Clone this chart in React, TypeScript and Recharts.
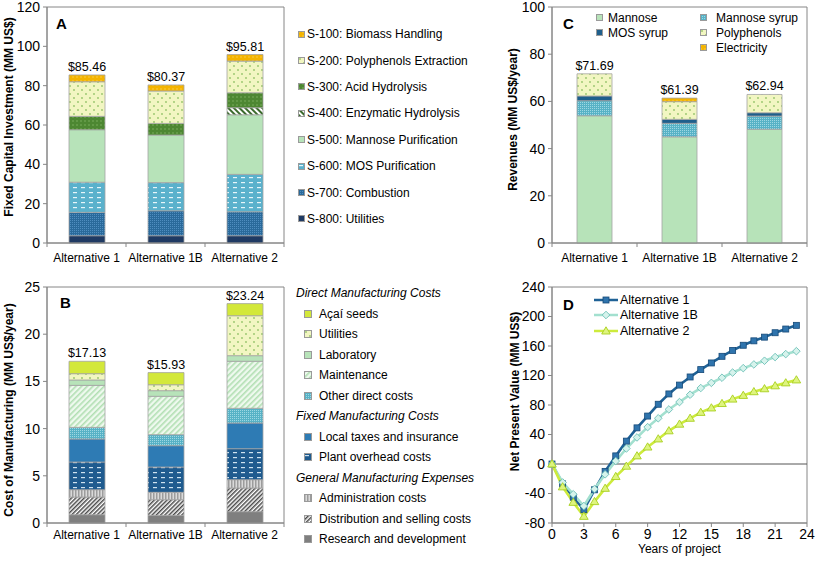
import React from 'react';
import {
  BarChart, Bar, XAxis, YAxis, LabelList, Legend, ReferenceArea,
  LineChart, Line, ReferenceLine,
} from 'recharts';

const categories = ['Alternative 1', 'Alternative 1B', 'Alternative 2'];

// ---- Panel A: Fixed capital investment (MM US$)
const s800 = [3.7, 3.7, 3.7];
const s700 = [11.9, 12.7, 12.2];
const s600 = [15.3, 14.3, 19.0];
const s500 = [26.7, 24.2, 30.3];
const s400 = [0, 0, 3.6];
const s300 = [6.8, 5.9, 7.6];
const s200 = [17.6, 16.5, 16.1];
const s100 = [3.46, 3.07, 3.31];
const fciTotals = [85.46, 80.37, 95.81];
const fciTicks = [0, 20, 40, 60, 80, 100, 120];

// ---- Panel B: Cost of manufacturing (MM US$/year)
const rd = [0.88, 0.81, 1.2];
const dist = [1.87, 1.66, 2.51];
const admin = [0.78, 0.78, 0.88];
const overhead = [2.93, 2.68, 3.28];
const taxes = [2.44, 2.26, 2.72];
const otherDirect = [1.23, 1.17, 1.56];
const maintenance = [4.45, 4.06, 4.98];
const laboratory = [0.57, 0.6, 0.6];
const utilities = [0.67, 0.63, 4.23];
const acai = [1.31, 1.28, 1.28];
const comTotals = [17.13, 15.93, 23.24];
const comTicks = [0, 5, 10, 15, 20, 25];

// ---- Panel C: Revenues (MM US$/year)
const mannose = [53.9, 45.0, 48.2];
const mannoseSyrup = [6.4, 5.7, 5.6];
const mosSyrup = [2.0, 1.7, 1.4];
const polyphenols = [9.39, 7.5, 7.74];
const electricity = [0, 1.49, 0];
const revTotals = [71.69, 61.39, 62.94];
const revTicks = [0, 20, 40, 60, 80, 100];

// ---- Panel D: Net present value (MM US$)
const years = [0, 1, 2, 3, 4, 5, 6, 7, 8, 9, 10, 11, 12, 13, 14, 15, 16, 17, 18, 19, 20, 21, 22, 23];
const npvAlt1 = [0, -27, -45, -62, -35, -10, 11, 31, 49, 65, 81, 95, 107, 118, 128, 137, 146, 154, 161, 167, 172, 178, 183, 188];
const npvAlt1B = [0, -25, -41, -57, -34, -14, 4, 21, 36, 50, 62, 74, 84, 94, 103, 110, 117, 124, 130, 135, 140, 145, 149, 153];
const npvAlt2 = [0, -31, -52, -71, -51, -33, -17, -3, 11, 23, 34, 45, 54, 62, 70, 76, 82, 88, 93, 98, 102, 106, 110, 114];
const npvTicks = [-80, -40, 0, 40, 80, 120, 160, 200, 240];
const yearTicks = [0, 3, 6, 9, 12, 15, 18, 21, 24];

// ---- styles
const FONT = '"Liberation Sans", Arial, Helvetica, sans-serif';
const AXIS = '#868686';
const BAR_STROKE = '#a3a3a3';

const fciSeries = [
  { key: 's800', name: 'S-800: Utilities', values: s800, fill: '#1f3a63' },
  { key: 's700', name: 'S-700: Combustion', values: s700, fill: 'url(#pCheck700)' },
  { key: 's600', name: 'S-600: MOS Purification', values: s600, fill: 'url(#pDash600)' },
  { key: 's500', name: 'S-500: Mannose Purification', values: s500, fill: '#b7e3b9' },
  { key: 's400', name: 'S-400: Enzymatic Hydrolysis', values: s400, fill: 'url(#pDiagDG)' },
  { key: 's300', name: 'S-300: Acid Hydrolysis', values: s300, fill: 'url(#pGreenDots)' },
  { key: 's200', name: 'S-200: Polyphenols Extraction', values: s200, fill: 'url(#pYellowDots)' },
  { key: 's100', name: 'S-100: Biomass Handling', values: s100, fill: 'url(#pOrange)' },
];

const comSeries = [
  { key: 'rd', name: 'Research and development', values: rd, fill: '#7f7f7f' },
  { key: 'dist', name: 'Distribution and selling costs', values: dist, fill: 'url(#pDiagGray)' },
  { key: 'admin', name: 'Administration costs', values: admin, fill: 'url(#pVertGray)' },
  { key: 'overhead', name: 'Plant overhead costs', values: overhead, fill: 'url(#pDashNavy)' },
  { key: 'taxes', name: 'Local taxes and insurance', values: taxes, fill: '#2e7bb4' },
  { key: 'otherDirect', name: 'Other direct costs', values: otherDirect, fill: 'url(#pCheckTeal)' },
  { key: 'maintenance', name: 'Maintenance', values: maintenance, fill: 'url(#pDiagGreen)' },
  { key: 'laboratory', name: 'Laboratory', values: laboratory, fill: '#b7e3b9' },
  { key: 'utilities', name: 'Utilities', values: utilities, fill: 'url(#pYellowDots)' },
  { key: 'acai', name: 'Açaí seeds', values: acai, fill: '#d3e83a' },
];

const comLegendGroups = [
  { title: 'Direct Manufacturing Costs', keys: ['acai', 'utilities', 'laboratory', 'maintenance', 'otherDirect'] },
  { title: 'Fixed Manufacturing Costs', keys: ['taxes', 'overhead'] },
  { title: 'General Manufacturing Expenses', keys: ['admin', 'dist', 'rd'] },
];

const revSeries = [
  { key: 'mannose', name: 'Mannose', values: mannose, fill: '#b7e3b9' },
  { key: 'mannoseSyrup', name: 'Mannose syrup', values: mannoseSyrup, fill: 'url(#pCheckTeal)' },
  { key: 'mosSyrup', name: 'MOS syrup', values: mosSyrup, fill: '#1f5f8c' },
  { key: 'polyphenols', name: 'Polyphenols', values: polyphenols, fill: 'url(#pYellowDots)' },
  { key: 'electricity', name: 'Electricity', values: electricity, fill: 'url(#pOrange)' },
];
const revLegendOrder = [['mannose', 'mannoseSyrup'], ['mosSyrup', 'polyphenols'], [null, 'electricity']];

const npvSeries = [
  { key: 'alt1', name: 'Alternative 1', values: npvAlt1, stroke: '#1f6296', shape: 'square' },
  { key: 'alt1b', name: 'Alternative 1B', values: npvAlt1B, stroke: '#a3e0cf', shape: 'diamond' },
  { key: 'alt2', name: 'Alternative 2', values: npvAlt2, stroke: '#cdeb3c', shape: 'triangle' },
];

const buildRows = (series: any[], totals: number[]) =>
  categories.map((name, i) => {
    const row: any = { name, total: totals[i] };
    series.forEach((s) => { row[s.key] = s.values[i]; });
    return row;
  });

const fciData = buildRows(fciSeries, fciTotals);
const comData = buildRows(comSeries, comTotals);
const revData = buildRows(revSeries, revTotals);
const npvData = years.map((year, i) => {
  const row: any = { year };
  npvSeries.forEach((s) => { row[s.key] = s.values[i]; });
  return row;
});

// ---- layout constants
const LEFT_W = 500;
const LEFT_RIGHT_MARGIN = 216;
const LEFT_YAXIS_W = 47;
const RIGHT_W = 317;
const RIGHT_RIGHT_MARGIN = 10;
const RIGHT_YAXIS_W = 52;
const leftHalfBand = (LEFT_W - LEFT_RIGHT_MARGIN - LEFT_YAXIS_W) / categories.length / 2;
const rightHalfBand = (RIGHT_W - RIGHT_RIGHT_MARGIN - RIGHT_YAXIS_W) / categories.length / 2;

const makeCatTick = (half: number, tickLen: number, gap: number) => (props: any) => {
  const { x, y, payload, index } = props;
  const axisY = y - tickLen - gap;
  return (
    <g>
      <line x1={x - half} x2={x - half} y1={axisY} y2={axisY + tickLen} stroke={AXIS} />
      {index === categories.length - 1 ? (
        <line x1={x + half} x2={x + half} y1={axisY} y2={axisY + tickLen} stroke={AXIS} />
      ) : null}
      <text x={x} y={y} dy="0.71em" textAnchor="middle" fontSize={12} fill="#000" fontFamily={FONT}>
        {payload.value}
      </text>
    </g>
  );
};

const Swatch = ({ fill, size = 8 }: { fill: string; size?: number }) => (
  <svg width={size} height={size} style={{ display: 'block', flex: 'none' }}>
    <rect x={0.5} y={0.5} width={size - 1} height={size - 1} fill={fill} stroke="#9a9a9a" strokeWidth={1} />
  </svg>
);

const FciLegend = () => (
  <div style={{ fontFamily: FONT, fontSize: 12, color: '#000' }}>
    {fciSeries.slice().reverse().map((s) => (
      <div key={s.key} style={{ display: 'flex', alignItems: 'center', height: 26.4, whiteSpace: 'nowrap' }}>
        <Swatch fill={s.fill} size={7} />
        <span style={{ marginLeft: 2 }}>{s.name}</span>
      </div>
    ))}
  </div>
);

const ComLegend = () => (
  <div style={{ fontFamily: FONT, fontSize: 12, color: '#000' }}>
    {comLegendGroups.map((g) => (
      <div key={g.title}>
        <div style={{ height: 20.5, lineHeight: '20.5px', fontStyle: 'italic', whiteSpace: 'nowrap' }}>{g.title}</div>
        {g.keys.map((k) => {
          const s = comSeries.find((c) => c.key === k)!;
          return (
            <div key={k} style={{ display: 'flex', alignItems: 'center', height: 20.5, paddingLeft: 8, whiteSpace: 'nowrap' }}>
              <Swatch fill={s.fill} size={8} />
              <span style={{ marginLeft: 7 }}>{s.name}</span>
            </div>
          );
        })}
      </div>
    ))}
  </div>
);

const RevLegend = () => (
  <div style={{ fontFamily: FONT, fontSize: 12, color: '#000', display: 'grid', gridTemplateColumns: '104px 120px', gridAutoRows: '15px' }}>
    {revLegendOrder.flat().map((k, i) => {
      if (!k) return <div key={'e' + i} />;
      const s = revSeries.find((c) => c.key === k)!;
      return (
        <div key={k} style={{ display: 'flex', alignItems: 'center', whiteSpace: 'nowrap' }}>
          <Swatch fill={s.fill} size={7} />
          <span style={{ marginLeft: i % 2 === 0 ? 5 : 9 }}>{s.name}</span>
        </div>
      );
    })}
  </div>
);

const Marker = ({ shape, cx, cy }: { shape: string; cx: number; cy: number }) => {
  if (shape === 'square') {
    return <rect x={cx - 3} y={cy - 3} width={6} height={6} fill="#2f74ad" stroke="#174a78" strokeWidth={0.8} />;
  }
  if (shape === 'diamond') {
    return (
      <path
        d={`M${cx},${cy - 3.8} L${cx + 3.8},${cy} L${cx},${cy + 3.8} L${cx - 3.8},${cy} Z`}
        fill="#d6f3ec" stroke="#6cbfb7" strokeWidth={0.9}
      />
    );
  }
  return (
    <path
      d={`M${cx},${cy - 4.2} L${cx + 4.3},${cy + 3} L${cx - 4.3},${cy + 3} Z`}
      fill="#def47e" stroke="#a8cf1e" strokeWidth={0.9}
    />
  );
};

const NpvLegend = () => (
  <div style={{ fontFamily: FONT, fontSize: 12.5, color: '#000' }}>
    {npvSeries.map((s) => (
      <div key={s.key} style={{ display: 'flex', alignItems: 'center', height: 15.5, whiteSpace: 'nowrap' }}>
        <svg width={24} height={10} style={{ display: 'block' }}>
          <line x1={0} x2={24} y1={5} y2={5} stroke={s.stroke} strokeWidth={2.5} />
          <Marker shape={s.shape} cx={12} cy={5} />
        </svg>
        <span style={{ marginLeft: 2 }}>{s.name}</span>
      </div>
    ))}
  </div>
);

const panelLetter = (ch: string, left: number, top: number) => (
  <div style={{ position: 'absolute', left, top, fontFamily: FONT, fontWeight: 'bold', fontSize: 15, lineHeight: '15px' }}>{ch}</div>
);

const Patterns = () => (
  <svg width={0} height={0} style={{ position: 'absolute' }}>
    <defs>
      <pattern id="pOrange" width="4" height="4" patternUnits="userSpaceOnUse">
        <rect width="4" height="4" fill="#f4b400" />
        <circle cx="1" cy="1" r="0.7" fill="#fcd35e" />
      </pattern>
      <pattern id="pYellowDots" width="8" height="8" patternUnits="userSpaceOnUse">
        <rect width="8" height="8" fill="#f2f6c2" />
        <circle cx="2" cy="2" r="0.9" fill="#96c46a" />
        <circle cx="6" cy="6" r="0.9" fill="#96c46a" />
      </pattern>
      <pattern id="pGreenDots" width="4" height="4" patternUnits="userSpaceOnUse">
        <rect width="4" height="4" fill="#4d8732" />
        <circle cx="1" cy="1" r="0.7" fill="#86b86a" />
      </pattern>
      <pattern id="pDiagDG" width="4" height="4" patternUnits="userSpaceOnUse" patternTransform="rotate(-45)">
        <rect width="4" height="4" fill="#ffffff" />
        <rect width="2" height="4" fill="#3b6a2c" />
      </pattern>
      <pattern id="pDash600" width="8" height="5" patternUnits="userSpaceOnUse">
        <rect width="8" height="5" fill="#5ab1cc" />
        <rect x="1" y="2" width="4" height="1.2" fill="#e6f5f9" />
      </pattern>
      <pattern id="pCheck700" width="2" height="2" patternUnits="userSpaceOnUse">
        <rect width="2" height="2" fill="#2a6a9b" />
        <rect width="1" height="1" fill="#4f8dbf" />
      </pattern>
      <pattern id="pCheckTeal" width="2" height="2" patternUnits="userSpaceOnUse">
        <rect width="2" height="2" fill="#57b2c6" />
        <rect width="1" height="1" fill="#9dd7e2" />
      </pattern>
      <pattern id="pDiagGreen" width="4" height="4" patternUnits="userSpaceOnUse" patternTransform="rotate(45)">
        <rect width="4" height="4" fill="#eef9ee" />
        <rect width="1.6" height="4" fill="#b2dfb3" />
      </pattern>
      <pattern id="pDashNavy" width="8" height="5" patternUnits="userSpaceOnUse">
        <rect width="8" height="5" fill="#1f5b8f" />
        <rect x="1" y="2" width="4" height="1.2" fill="#cfe2ef" />
      </pattern>
      <pattern id="pVertGray" width="3" height="3" patternUnits="userSpaceOnUse">
        <rect width="3" height="3" fill="#dadada" />
        <rect width="1.5" height="3" fill="#9c9c9c" />
      </pattern>
      <pattern id="pDiagGray" width="3" height="3" patternUnits="userSpaceOnUse" patternTransform="rotate(45)">
        <rect width="3" height="3" fill="#ffffff" />
        <rect width="1.5" height="3" fill="#4a4a4a" />
      </pattern>
    </defs>
  </svg>
);

const yLabel = (value: string, dx: number, dy: number) => ({
  value, angle: -90, position: 'center' as const, dx, dy,
  fontSize: 12, fontWeight: 'bold', fill: '#000',
});

const money = (v: any) => `$${Number(v).toFixed(2)}`;

// total label drawn on the topmost non-zero segment of each stack
const makeTotalLabel = (data: any[], series: any[], seriesIdx: number) => (p: any) => {
  let idx = data.findIndex((r) => r.total === Number(p.value));
  if (idx < 0 && typeof p.index === 'number') idx = p.index;
  if (idx < 0 || !data[idx]) return null;
  const row = data[idx];
  let top = -1;
  series.forEach((s, j) => { if (row[s.key] > 0) top = j; });
  if (top !== seriesIdx) return null;
  return (
    <text x={Number(p.x) + Number(p.width) / 2} y={Number(p.y) - 4} textAnchor="middle" fontSize={12.5} fill="#000" fontFamily={FONT}>
      {money(row.total)}
    </text>
  );
};

const StackedPanel = ({ data, series, ticks, domain, width, rightMargin, yWidth, halfBand, tickGap, label, labelDx, labelDy, legend, legendStyle, barSize }: any) => (
  <BarChart width={width} height={265} data={data} margin={{ top: 7, right: rightMargin, left: 0, bottom: 0 }}>
    <ReferenceArea y1={domain[0]} y2={domain[1]} fill="none" stroke={AXIS} ifOverflow="visible" />
    <XAxis dataKey="name" height={22} axisLine={{ stroke: AXIS }} tickLine={false} tickSize={4} tickMargin={tickGap}
      tick={makeCatTick(halfBand, 4, tickGap)} interval={0} />
    <YAxis domain={domain} ticks={ticks} interval={0} width={yWidth} tickSize={4} tickMargin={3}
      axisLine={{ stroke: AXIS }} tickLine={{ stroke: AXIS }} tick={{ fontSize: 14, fill: '#000' }}
      label={yLabel(label, labelDx, labelDy)} />
    {series.map((s: any, i: number) => (
      <Bar key={s.key} dataKey={s.key} name={s.name} stackId="a" fill={s.fill} stroke={BAR_STROKE} strokeWidth={0.8}
        barSize={barSize} isAnimationActive={false}>
        <LabelList dataKey="total" content={makeTotalLabel(data, series, i)} />
      </Bar>
    ))}
    <Legend layout="vertical" align="center" verticalAlign="middle" content={legend} wrapperStyle={legendStyle} />
  </BarChart>
);

export default function App() {
  return (
    <div style={{ position: 'absolute', left: 0, top: 0, width: 817, height: 566, background: '#fff', fontFamily: FONT, overflow: 'hidden' }}>
      <Patterns />
      <div style={{ position: 'absolute', left: 0, top: 0 }}>
        <StackedPanel data={fciData} series={fciSeries} ticks={fciTicks} domain={[0, 120]} width={LEFT_W}
          rightMargin={LEFT_RIGHT_MARGIN} yWidth={LEFT_YAXIS_W} halfBand={leftHalfBand} tickGap={6} barSize={36}
          label="Fixed Capital Investment (MM US$)" labelDx={-14.5} labelDy={-8}
          legend={() => <FciLegend />} legendStyle={{ left: 298, top: 21, width: 200 }} />
      </div>
      <div style={{ position: 'absolute', left: 0, top: 280 }}>
        <StackedPanel data={comData} series={comSeries} ticks={comTicks} domain={[0, 25]} width={LEFT_W}
          rightMargin={LEFT_RIGHT_MARGIN} yWidth={LEFT_YAXIS_W} halfBand={leftHalfBand} tickGap={3} barSize={36}
          label="Cost of Manufacturing (MM US$/year)" labelDx={-14.5} labelDy={5}
          legend={() => <ComLegend />} legendStyle={{ left: 296, top: 3, width: 204 }} />
      </div>
      <div style={{ position: 'absolute', left: 500, top: 0 }}>
        <StackedPanel data={revData} series={revSeries} ticks={revTicks} domain={[0, 100]} width={RIGHT_W}
          rightMargin={RIGHT_RIGHT_MARGIN} yWidth={RIGHT_YAXIS_W} halfBand={rightHalfBand} tickGap={6} barSize={35}
          label="Revenues (MM US$/year)" labelDx={-13} labelDy={-5.5}
          legend={() => <RevLegend />} legendStyle={{ left: 96, top: 10, width: 224 }} />
      </div>
      <div style={{ position: 'absolute', left: 500, top: 280 }}>
        <LineChart width={RIGHT_W} height={286} data={npvData} margin={{ top: 7, right: RIGHT_RIGHT_MARGIN, left: 0, bottom: 0 }}>
          <ReferenceArea y1={-80} y2={240} fill="none" stroke={AXIS} ifOverflow="visible" />
          <ReferenceLine y={0} stroke="#555" strokeWidth={1} />
          <XAxis dataKey="year" type="number" domain={[0, 24]} ticks={yearTicks} interval={0} height={43}
            tickSize={4} tickMargin={2} axisLine={{ stroke: AXIS }} tickLine={{ stroke: AXIS }}
            tick={{ fontSize: 14, fill: '#000' }}
            label={{ value: 'Years of project', position: 'insideBottom', offset: 13, fontSize: 12, fill: '#000' }} />
          <YAxis domain={[-80, 240]} ticks={npvTicks} interval={0} width={RIGHT_YAXIS_W} tickSize={4} tickMargin={3}
            axisLine={{ stroke: AXIS }} tickLine={{ stroke: AXIS }} tick={{ fontSize: 14, fill: '#000' }}
            label={yLabel('Net Present Value (MM US$)', -11, -13.5)} />
          {npvSeries.map((s) => (
            <Line key={s.key} dataKey={s.key} name={s.name} stroke={s.stroke} strokeWidth={2.6}
              isAnimationActive={false}
              dot={(p: any) => <Marker key={`${s.key}-${p.index}`} shape={s.shape} cx={p.cx} cy={p.cy} />}
              activeDot={false} />
          ))}
          <Legend layout="vertical" align="center" verticalAlign="middle" content={() => <NpvLegend />}
            wrapperStyle={{ left: 94, top: 12, width: 150 }} />
        </LineChart>
      </div>
      {panelLetter('A', 56, 16)}
      {panelLetter('B', 60, 295)}
      {panelLetter('C', 563, 16)}
      {panelLetter('D', 563, 297)}
    </div>
  );
}
